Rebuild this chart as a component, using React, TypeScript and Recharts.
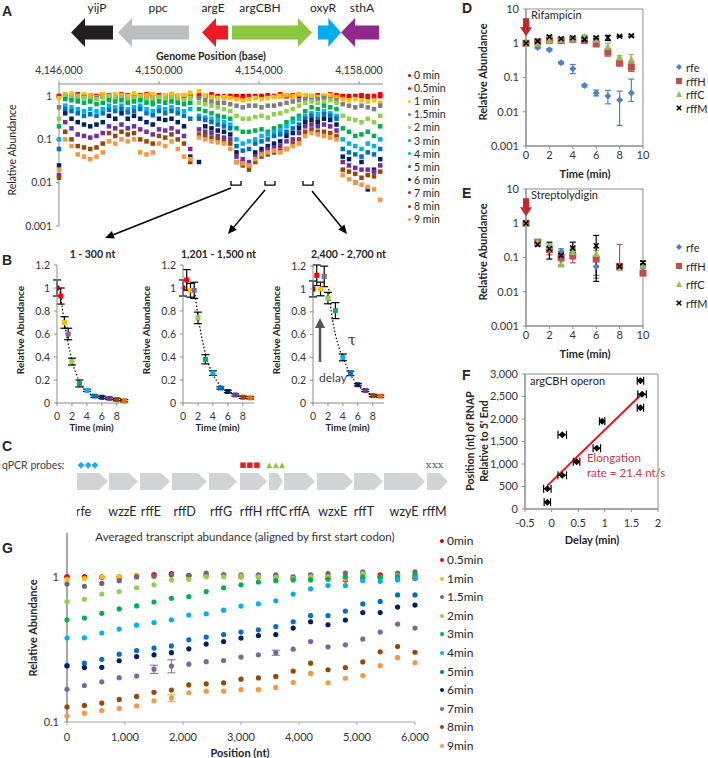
import React from "react";
import { ComposedChart, ErrorBar, Line, ReferenceArea, Scatter, XAxis, YAxis } from "recharts";

const FONT = "Lato, 'Open Sans', sans-serif";
const INK = "#262626";
const AXIS = "#8c8c8c";
const tickFont = (size: number) => ({ fontSize: size, fill: "#333", fontFamily: FONT });
const comma = (v: number) => v.toLocaleString("en-US");
const plain = (v: number) => String(v);

// ---------- Panel A: genome tiling (relative abundance per time point) ----------
const A_DOMAIN = [4146000, 4158960];
const A_TICKS = [4146000, 4150000, 4154000, 4158000];
const A_POS = [
  4146000, 4146250, 4146500, 4146750, 4147000, 4147250, 4147500, 4147750, 4148000, 4148250, 4148500,
  4148750, 4149000, 4149250, 4149500, 4149750, 4150000, 4150250, 4150500, 4150750, 4151000, 4151250,
  4151600, 4151850, 4152100, 4152350, 4152600, 4152850, 4153100, 4153350, 4153600, 4153850, 4154100,
  4154350, 4154600, 4154850, 4155100, 4155350, 4155600, 4155850, 4156100, 4156350, 4156600, 4156850,
  4157100, 4157350, 4157600, 4157850, 4158100, 4158350, 4158600, 4158850,
];
const A_0MIN = [
  1, 1, 1, 1, 1, 1, 1, 1, 1, 1, 1, 1, 1, 1, 1, 1, 1, 1, 1, 1, 1, 1,
  1, 1, 1, 1, 1, 1, 1, 1, 1, 1, 1, 1, 1, 1, 1, 1, 1, 1, 1, 1, 1, 1, 1, 1, 1, 1, 1, 1, 1, 1,
];
const A_05MIN = [
  1.0, 1.05, 0.95, 1.1, 1.0, 1.05, 1.0, 1.1, 1.05, 0.95, 1.1, 1.05, 1.0, 1.05, 1.1, 1.0, 1.05, 0.95, 1.1, 1.0, 1.05, 1.0,
  1.05, 1.0, 1.1, 1.0, 0.95, 1.0, 0.95, 0.9, 1.0, 0.95, 1.0, 1.05, 1.0, 1.1, 1.0, 1.05, 1.1, 1.0, 0.95, 1.05, 1.0, 1.1, 1.05, 1.0, 0.95, 1.0, 1.05, 0.95, 1.0, 1.1,
];
const A_1MIN = [
  0.9, 1.1, 1.15, 1.0, 1.1, 1.05, 0.95, 1.1, 1.0, 1.1, 1.05, 1.0, 1.15, 1.0, 1.05, 1.1, 0.95, 1.05, 1.1, 1.0, 1.05, 1.2,
  1.3, 1.0, 0.95, 0.9, 0.95, 0.9, 0.85, 0.8, 0.85, 0.9, 0.85, 0.9, 0.95, 1.0, 1.05, 1.0, 1.1, 1.05, 1.0, 0.95, 1.0, 1.05, 0.95, 0.85, 0.8, 0.85, 0.8, 0.75, 0.8, 0.7,
];
const A_15MIN = [
  0.55, 0.95, 0.9, 0.85, 0.95, 0.85, 0.9, 0.95, 0.85, 0.9, 0.95, 0.85, 0.8, 0.9, 0.85, 0.8, 0.9, 0.85, 0.9, 0.8, 0.85, 0.95,
  0.9, 0.8, 0.75, 0.7, 0.7, 0.65, 0.6, 0.55, 0.6, 0.6, 0.55, 0.6, 0.6, 0.65, 0.7, 0.75, 0.8, 0.85, 0.8, 0.85, 0.9, 0.85, 0.8, 0.65, 0.6, 0.55, 0.6, 0.55, 0.5, 0.6,
];
const A_2MIN = [
  0.3, 1.05, 0.95, 1.0, 0.9, 0.95, 0.85, 0.95, 1.0, 0.9, 0.95, 0.85, 0.9, 0.95, 0.85, 0.9, 0.95, 0.85, 0.9, 0.85, 0.8, 0.9,
  0.7, 0.65, 0.6, 0.55, 0.5, 0.45, 0.35, 0.3, 0.3, 0.33, 0.35, 0.32, 0.38, 0.4, 0.45, 0.5, 0.6, 0.7, 0.75, 0.7, 0.75, 0.8, 0.7, 0.35, 0.3, 0.28, 0.25, 0.3, 0.25, 0.35,
];
const A_3MIN = [
  0.2, 0.85, 0.8, 0.75, 0.7, 0.75, 0.65, 0.7, 0.8, 0.75, 0.8, 0.7, 0.75, 0.8, 0.7, 0.65, 0.75, 0.7, 0.75, 0.7, 0.65, 0.7,
  0.5, 0.45, 0.4, 0.35, 0.33, 0.3, 0.18, 0.15, 0.15, 0.16, 0.17, 0.15, 0.18, 0.2, 0.25, 0.3, 0.35, 0.45, 0.55, 0.5, 0.6, 0.55, 0.5, 0.18, 0.15, 0.12, 0.13, 0.15, 0.12, 0.2,
];
const A_4MIN = [
  0.1, 0.6, 0.55, 0.5, 0.45, 0.5, 0.45, 0.5, 0.6, 0.55, 0.6, 0.5, 0.55, 0.6, 0.5, 0.45, 0.55, 0.5, 0.55, 0.5, 0.45, 0.5,
  0.35, 0.32, 0.3, 0.28, 0.25, 0.22, 0.1, 0.08, 0.09, 0.1, 0.12, 0.13, 0.15, 0.16, 0.2, 0.25, 0.3, 0.35, 0.4, 0.38, 0.45, 0.4, 0.35, 0.1, 0.08, 0.07, 0.06, 0.08, 0.07, 0.1,
];
const A_5MIN = [
  0.06, 0.5, 0.45, 0.4, 0.35, 0.38, 0.35, 0.4, 0.48, 0.45, 0.5, 0.42, 0.45, 0.5, 0.4, 0.36, 0.45, 0.4, 0.45, 0.4, 0.35, 0.3,
  0.3, 0.28, 0.25, 0.22, 0.2, 0.18, 0.07, 0.055, 0.06, 0.08, 0.09, 0.1, 0.12, 0.13, 0.15, 0.18, 0.22, 0.3, 0.35, 0.3, 0.38, 0.35, 0.3, 0.06, 0.05, 0.045, 0.04, 0.05, 0.045, 0.06,
];
const A_6MIN = [
  0.025, 0.4, 0.3, 0.25, 0.22, 0.2, 0.22, 0.25, 0.35, 0.3, 0.4, 0.3, 0.35, 0.3, 0.25, 0.22, 0.3, 0.28, 0.3, 0.25, 0.2, 0.04,
  0.03, 0.2, 0.18, 0.16, 0.15, 0.13, 0.05, 0.03, 0.025, 0.05, 0.06, 0.07, 0.08, 0.09, 0.12, 0.14, 0.18, 0.25, 0.28, 0.25, 0.3, 0.28, 0.22, 0.04, 0.035, 0.01, 0.03, 0.007, 0.02, 0.035,
];
const A_7MIN = [
  0.015, 0.25, 0.18, 0.13, 0.12, 0.11, 0.12, 0.14, 0.2, 0.18, 0.22, 0.18, 0.2, 0.17, 0.15, 0.13, 0.17, 0.16, 0.18, 0.15, 0.12, 0.06,
  0.17, 0.15, 0.14, 0.12, 0.11, 0.1, 0.04, 0.035, 0.03, 0.04, 0.05, 0.06, 0.065, 0.07, 0.09, 0.1, 0.14, 0.2, 0.22, 0.2, 0.22, 0.2, 0.16, 0.03, 0.025, 0.022, 0.02, 0.02, 0.018, 0.025,
];
const A_8MIN = [
  0.013, 0.15, 0.1, 0.07, 0.065, 0.06, 0.065, 0.08, 0.14, 0.12, 0.15, 0.13, 0.14, 0.1, 0.09, 0.08, 0.12, 0.11, 0.13, 0.1, 0.08, 0.03,
  0.13, 0.12, 0.11, 0.1, 0.09, 0.08, 0.03, 0.025, 0.02, 0.03, 0.04, 0.045, 0.05, 0.055, 0.06, 0.08, 0.1, 0.15, 0.17, 0.15, 0.15, 0.14, 0.12, 0.02, 0.018, 0.016, 0.013, 0.015, 0.014, 0.018,
];
const A_9MIN = [
  0.02, 0.1, 0.07, 0.045, 0.04, 0.035, 0.04, 0.05, 0.09, 0.08, 0.1, 0.09, 0.1, 0.05, 0.045, 0.05, 0.08, 0.07, 0.09, 0.06, 0.04, 0.035,
  0.11, 0.1, 0.09, 0.085, 0.08, 0.06, 0.03, 0.028, 0.025, 0.035, 0.045, 0.05, 0.055, 0.05, 0.06, 0.07, 0.08, 0.12, 0.14, 0.13, 0.12, 0.11, 0.1, 0.015, 0.012, 0.01, 0.009, 0.008, 0.007, 0.004,
];
const A_SERIES = [A_0MIN, A_05MIN, A_1MIN, A_15MIN, A_2MIN, A_3MIN, A_4MIN, A_5MIN, A_6MIN, A_7MIN, A_8MIN, A_9MIN];
const A_LABELS = ["0 min", "0.5min", "1 min", "1.5min", "2 min", "3 min", "4 min", "5 min", "6 min", "7 min", "8 min", "9 min"];
const A_COLORS = ["#c00000", "#ff0000", "#ffc000", "#7f7f7f", "#92d050", "#00b050", "#00b0f0", "#0070c0", "#002060", "#7030a0", "#974706", "#f79646"];

const A_GENES = ["yijP", "ppc", "argE", "argCBH", "oxyR", "sthA"];
const A_GENE_START = [4146480, 4148360, 4151720, 4152920, 4156360, 4157280];
const A_GENE_END = [4148160, 4151200, 4152760, 4156120, 4157280, 4158800];
const A_GENE_STRAND = [-1, -1, -1, 1, 1, -1];
const A_GENE_LABEL_POS = [4147520, 4149960, 4152160, 4154040, 4156560, 4158120];
const A_GENE_COLORS = ["#231f20", "#bcbec0", "#ed1c24", "#8dc63f", "#00aeef", "#92278f"];
const A_WINDOW_START = [4152880, 4154240, 4155760];
const A_WINDOW_END = [4153280, 4154640, 4156160];

// ---------- Panel B: decay in three windows ----------
const B_TIMES = [0, 0.5, 1, 1.5, 2, 3, 4, 5, 6, 7, 8, 9];
const B_COLORS = ["#c00000", "#ff0000", "#ffc000", "#8064a2", "#92d050", "#00b050", "#00b0f0", "#0070c0", "#002060", "#7030a0", "#974706", "#e46c0a"];
const B1_VALUES = [1.0, 0.93, 0.7, 0.6, 0.36, 0.17, 0.11, 0.06, 0.05, 0.04, 0.03, 0.02];
const B1_ERR = [0.07, 0.07, 0.05, 0.05, 0.03, 0.03, 0.01, 0.01, 0.01, 0.01, 0.01, 0.01];
const B1_FIT_T = [0.35, 1, 2, 3, 4, 5, 6, 7, 8, 9];
const B1_FIT_V = [1.0, 0.7, 0.37, 0.19, 0.1, 0.06, 0.04, 0.03, 0.025, 0.02];
const B2_VALUES = [1.0, 1.07, 0.98, 0.98, 0.74, 0.38, 0.26, 0.13, 0.1, 0.07, 0.05, 0.045];
const B2_ERR = [0.07, 0.09, 0.06, 0.07, 0.05, 0.04, 0.02, 0.01, 0.01, 0.01, 0.01, 0.01];
const B2_FIT_T = [1.5, 2, 3, 4, 5, 6, 7, 8, 9];
const B2_FIT_V = [1.0, 0.76, 0.43, 0.25, 0.15, 0.1, 0.07, 0.05, 0.04];
const B3_VALUES = [1.0, 1.12, 1.0, 1.11, 0.92, 0.81, 0.4, 0.26, 0.16, 0.11, 0.065, 0.06];
const B3_ERR = [0.07, 0.09, 0.06, 0.09, 0.05, 0.07, 0.03, 0.02, 0.01, 0.01, 0.01, 0.01];
const B3_FIT_T = [2.1, 2.5, 3, 3.5, 4, 5, 6, 7, 8, 9];
const B3_FIT_V = [1.0, 0.78, 0.6, 0.48, 0.4, 0.25, 0.16, 0.1, 0.07, 0.05];

// ---------- Panel C: operon map ----------
const C_GENES = ["rfe", "wzzE", "rffE", "rffD", "rffG", "rffH", "rffC", "rffA", "wzxE", "rffT", "wzyE", "rffM"];
const C_START = [0, 1030, 2040, 3070, 4270, 5270, 6210, 6700, 7760, 8960, 9930, 11320];
const C_END = [1000, 1970, 3010, 4200, 5180, 6150, 6660, 7700, 8930, 9900, 11260, 12000];
const C_LABEL_POS = [210, 1470, 2390, 3480, 4660, 5630, 6460, 7190, 8270, 9280, 10580, 11560];
const C_PROBE_RFE = [130, 360, 580];
const C_PROBE_RFFH = [5370, 5590, 5820];
const C_PROBE_RFFC = [6220, 6430, 6630];
const C_PROBE_RFFM = [11370, 11570, 11760];

// ---------- Panels D / E: qPCR ----------
const QPCR_NAMES = ["rfe", "rffH", "rffC", "rffM"];
const QPCR_COLORS = ["#4f81bd", "#c0504d", "#9bbb59", "#000000"];
const D_TIMES = [0, 1, 2, 3, 4, 5, 6, 7, 8, 9];
const D_RFE = [1.0, 0.75, 0.65, 0.27, 0.18, 0.058, 0.035, 0.029, 0.022, 0.035];
const D_RFE_ERR = [[0, 0], [0.05, 0.05], [0.05, 0.05], [0.02, 0.02], [0.05, 0.06], [0.005, 0.005], [0.006, 0.008], [0.012, 0.013], [0.018, 0.018], [0.015, 0.055]];
const D_RFFH = [1.0, 1.1, 1.2, 1.2, 1.3, 1.2, 0.95, 0.55, 0.26, 0.2];
const D_RFFH_ERR = [[0, 0], [0.05, 0.05], [0.1, 0.1], [0.1, 0.1], [0.1, 0.1], [0.1, 0.1], [0.1, 0.1], [0.13, 0.15], [0.02, 0.02], [0.05, 0.07]];
const D_RFFC = [1.0, 1.0, 1.25, 1.3, 1.4, 1.6, 1.3, 0.8, 0.4, 0.35];
const D_RFFC_ERR = [[0, 0], [0.05, 0.05], [0.1, 0.1], [0.1, 0.1], [0.1, 0.1], [0.15, 0.15], [0.1, 0.1], [0.2, 0.2], [0.03, 0.03], [0.1, 0.12]];
const D_RFFM = [1.0, 1.15, 1.55, 1.35, 1.45, 1.3, 1.45, 1.45, 1.6, 1.65];
const D_RFFM_ERR = [[0, 0], [0.05, 0.05], [0.1, 0.1], [0.08, 0.08], [0.1, 0.1], [0.2, 0.3], [0.1, 0.1], [0.25, 0.25], [0.05, 0.05], [0.1, 0.1]];

const E_TIMES = [0, 1, 2, 3, 4, 6, 8, 10];
const E_RFE = [1.0, 0.28, 0.2, 0.15, 0.16, 0.055, 0.055, 0.053];
const E_RFE_ERR = [[0, 0], [0.02, 0.02], [0.03, 0.03], [0.03, 0.03], [0.03, 0.04], [0.03, 0.05], [0.005, 0.005], [0.005, 0.008]];
const E_RFFH = [1.0, 0.28, 0.17, 0.1, 0.11, 0.09, 0.055, 0.035];
const E_RFFH_ERR = [[0, 0], [0.02, 0.02], [0.05, 0.03], [0.04, 0.03], [0.04, 0.02], [0.06, 0.1], [0.005, 0.185], [0.003, 0.003]];
const E_RFFC = [1.0, 0.3, 0.22, 0.065, 0.15, 0.13, 0.05, 0.06];
const E_RFFC_ERR = [[0, 0], [0.02, 0.02], [0.04, 0.04], [0.01, 0.01], [0.03, 0.03], [0.03, 0.03], [0.005, 0.005], [0.005, 0.005]];
const E_RFFM = [1.0, 0.24, 0.18, 0.115, 0.19, 0.22, 0.055, 0.07];
const E_RFFM_ERR = [[0, 0], [0.02, 0.02], [0.09, 0.1], [0.06, 0.03], [0.05, 0.09], [0.2, 0.22], [0.005, 0.005], [0.005, 0.008]];

// ---------- Panel F: elongation ----------
const F_DELAY = [-0.08, -0.08, 0.2, 0.47, 0.85, 0.2, 0.95, 1.67, 1.7, 1.67];
const F_POS = [150, 450, 750, 1050, 1350, 1650, 1950, 2250, 2550, 2850];
const F_ERR = [0.06, 0.07, 0.08, 0.06, 0.07, 0.08, 0.05, 0.06, 0.08, 0.06];
const F_FIT_DELAY = [-0.08, 1.7];
const F_FIT_POS = [520, 2560];

// ---------- Panel G: averaged profile ----------
const G_POS = [0, 300, 600, 900, 1200, 1500, 1800, 2100, 2400, 2700, 3000, 3300, 3600, 3900, 4200, 4500, 4800, 5100, 5400, 5700, 6000];
const G_0MIN = [1.0, 1.0, 1.0, 1.0, 1.02, 1.03, 1.04, 1.02, 1.03, 1.02, 1.0, 1.02, 1.0, 0.98, 1.02, 1.0, 0.98, 1.05, 1.0, 1.02, 0.98];
const G_05MIN = [1.0, 1.0, 0.99, 0.98, 1.0, 1.03, 1.05, 1.02, 1.02, 1.03, 1.0, 1.0, 1.0, 0.97, 1.0, 0.98, 0.95, 0.97, 1.03, 0.98, 0.98];
const G_1MIN = [0.96, 0.97, 1.0, 1.0, 1.02, 1.0, 1.02, 1.0, 1.02, 1.03, 1.0, 1.02, 0.98, 0.96, 1.0, 0.98, 0.97, 1.05, 0.98, 1.0, 1.0];
const G_15MIN = [0.89, 0.86, 0.9, 0.94, 1.0, 1.01, 1.03, 1.02, 1.06, 1.03, 1.03, 1.03, 1.03, 1.0, 1.03, 1.05, 1.06, 1.08, 1.0, 1.06, 1.08];
const G_2MIN = [0.675, 0.7, 0.76, 0.79, 0.84, 0.88, 0.95, 0.96, 1.0, 1.0, 1.01, 1.0, 0.99, 0.97, 1.0, 1.0, 0.98, 1.05, 0.98, 1.02, 1.02];
const G_3MIN = [0.505, 0.52, 0.56, 0.6, 0.63, 0.67, 0.71, 0.73, 0.79, 0.84, 0.88, 0.92, 0.94, 0.95, 0.95, 0.96, 1.0, 1.0, 0.99, 1.0, 1.03];
const G_4MIN = [0.378, 0.38, 0.41, 0.436, 0.464, 0.484, 0.505, 0.545, 0.556, 0.589, 0.628, 0.651, 0.683, 0.76, 0.826, 0.87, 0.87, 0.94, 0.93, 0.95, 0.98];
const G_5MIN = [0.245, 0.254, 0.27, 0.293, 0.31, 0.323, 0.334, 0.368, 0.384, 0.4, 0.416, 0.431, 0.454, 0.49, 0.54, 0.54, 0.58, 0.65, 0.676, 0.75, 0.75];
const G_6MIN = [0.243, 0.237, 0.238, 0.264, 0.282, 0.29, 0.3, 0.319, 0.344, 0.358, 0.378, 0.394, 0.4, 0.443, 0.49, 0.467, 0.503, 0.567, 0.567, 0.618, 0.638];
const G_7MIN = [0.168, 0.178, 0.189, 0.202, 0.207, 0.231, 0.243, 0.25, 0.26, 0.265, 0.28, 0.29, 0.3, 0.317, 0.358, 0.329, 0.34, 0.372, 0.416, 0.472, 0.443];
const G_8MIN = [0.127, 0.13, 0.135, 0.143, 0.15, 0.16, 0.166, 0.18, 0.183, 0.186, 0.197, 0.201, 0.206, 0.224, 0.254, 0.229, 0.237, 0.259, 0.304, 0.331, 0.302];
const G_9MIN = [0.11, 0.115, 0.12, 0.124, 0.129, 0.14, 0.146, 0.159, 0.163, 0.163, 0.167, 0.167, 0.173, 0.187, 0.216, 0.186, 0.2, 0.209, 0.244, 0.277, 0.256];
const G_7MIN_ERR = [0, 0, 0, 0, 0, 0.015, 0.025, 0, 0, 0, 0, 0, 0.012, 0, 0, 0, 0, 0, 0, 0, 0];
const G_9MIN_ERR = [0, 0, 0, 0, 0, 0, 0.008, 0, 0, 0, 0, 0, 0, 0, 0, 0, 0, 0, 0, 0, 0];
const G_SERIES = [G_0MIN, G_05MIN, G_1MIN, G_15MIN, G_2MIN, G_3MIN, G_4MIN, G_5MIN, G_6MIN, G_7MIN, G_8MIN, G_9MIN];
const G_LABELS = ["0min", "0.5min", "1min", "1.5min", "2min", "3min", "4min", "5min", "6min", "7min", "8min", "9min"];
const G_COLORS = ["#c00000", "#ff0000", "#ffc000", "#6f6480", "#92d050", "#00b050", "#00b0f0", "#0070c0", "#002060", "#8064a2", "#974706", "#f79646"];

// ---------- helpers ----------
type Box = { l: number; t: number; r: number; b: number };
function place(box: Box, pad: Box, yW: number, xH: number, xTop = false) {
  return {
    left: box.l - pad.l - yW,
    top: box.t - pad.t - (xTop ? xH : 0),
    width: box.r - box.l + pad.l + pad.r + yW,
    height: box.b - box.t + pad.t + pad.b + xH,
    margin: { left: pad.l, top: pad.t, right: pad.r, bottom: pad.b },
  };
}

function At({ g, children }: any) {
  return <div style={{ position: "absolute", left: g.left, top: g.top, width: g.width, height: g.height }}>{children}</div>;
}

function Txt({ x, y, children, size = 11, bold = false, color = INK, anchor = "middle", rotate = false, family = FONT }: any) {
  const tx = anchor === "middle" ? "-50%" : anchor === "end" ? "-100%" : "0";
  return (
    <div
      style={{
        position: "absolute", left: x, top: y, whiteSpace: "nowrap", lineHeight: 1, fontSize: size, fontFamily: family,
        fontWeight: bold ? 700 : 400, color, transform: `translate(${tx}, -50%)${rotate ? " rotate(-90deg)" : ""}`,
      }}
    >
      {children}
    </div>
  );
}

const ok = (p: any) => Number.isFinite(p.cx) && Number.isFinite(p.cy);
const square = (s: number, color: string) => (p: any) =>
  ok(p) ? <rect x={p.cx - s / 2} y={p.cy - s / 2} width={s} height={s} fill={color} /> : <g />;
const dot = (r: number, color: string) => (p: any) => (ok(p) ? <circle cx={p.cx} cy={p.cy} r={r} fill={color} /> : <g />);
const diamond = (s: number, color: string) => (p: any) =>
  ok(p) ? <polygon points={`${p.cx},${p.cy - s / 2} ${p.cx + s / 2},${p.cy} ${p.cx},${p.cy + s / 2} ${p.cx - s / 2},${p.cy}`} fill={color} /> : <g />;
const triangle = (s: number, color: string) => (p: any) =>
  ok(p) ? <polygon points={`${p.cx},${p.cy - s / 2} ${p.cx + s / 2},${p.cy + s / 2} ${p.cx - s / 2},${p.cy + s / 2}`} fill={color} /> : <g />;
const cross = (s: number, color: string) => (p: any) =>
  ok(p) ? (
    <g stroke={color} strokeWidth={1.6}>
      <line x1={p.cx - s / 2} y1={p.cy - s / 2} x2={p.cx + s / 2} y2={p.cy + s / 2} />
      <line x1={p.cx - s / 2} y1={p.cy + s / 2} x2={p.cx + s / 2} y2={p.cy - s / 2} />
    </g>
  ) : <g />;
const letterX = (color: string) => (p: any) =>
  ok(p) ? <text x={p.cx} y={p.cy + 3} textAnchor="middle" fontSize={10} fontFamily="'DejaVu Serif', serif" fill={color}>x</text> : <g />;
const byIndex = (s: number, colors: string[]) => (p: any) =>
  ok(p) ? <rect x={p.cx - s / 2} y={p.cy - s / 2} width={s} height={s} fill={colors[p.payload.k]} /> : <g />;
const redArrow = (p: any) =>
  ok(p) ? (
    <polygon
      points={`${p.cx},${p.cy} ${p.cx + 6},${p.cy - 9} ${p.cx + 3},${p.cy - 9} ${p.cx + 3},${p.cy - 18} ${p.cx - 3},${p.cy - 18} ${p.cx - 3},${p.cy - 9} ${p.cx - 6},${p.cy - 9}`}
      fill="#c1272d"
    />
  ) : <g />;
const SHAPES = [diamond, square, triangle, cross];

function geneArrowA(strand: number, color: string) {
  return (p: any) => {
    const { x, y, width: w, height: h } = p;
    const hd = Math.min(14, w * 0.55);
    const y1 = y + h * 0.26;
    const y2 = y + h * 0.74;
    const ym = y + h / 2;
    const pts = strand > 0
      ? [x, y1, x + w - hd, y1, x + w - hd, y, x + w, ym, x + w - hd, y + h, x + w - hd, y2, x, y2]
      : [x + w, y1, x + hd, y1, x + hd, y, x, ym, x + hd, y + h, x + hd, y2, x + w, y2];
    return <polygon points={pts.join(",")} fill={color} />;
  };
}
const geneBlockC = (p: any) => {
  const { x, y, width: w, height: h } = p;
  const hd = Math.min(9, w * 0.4);
  return <polygon points={[x, y, x + w - hd, y, x + w, y + h / 2, x + w - hd, y + h, x, y + h].join(",")} fill="#d1d3d4" />;
};
const bracket = (p: any) => {
  const { x, y, width: w, height: h } = p;
  return <path d={`M${x},${y} V${y + h} H${x + w} V${y}`} fill="none" stroke="#000" strokeWidth={1.3} />;
};

function ArrowLine({ x1, y1, x2, y2, color = "#000", w = 1.5, head = 9, half = 4 }: any) {
  const a = Math.atan2(y2 - y1, x2 - x1);
  const bx = x2 - head * Math.cos(a);
  const by = y2 - head * Math.sin(a);
  const px = Math.sin(a) * half;
  const py = -Math.cos(a) * half;
  return (
    <g>
      <line x1={x1} y1={y1} x2={bx} y2={by} stroke={color} strokeWidth={w} />
      <polygon points={`${x2},${y2} ${bx + px},${by + py} ${bx - px},${by - py}`} fill={color} />
    </g>
  );
}

// ---------- panels ----------
function PanelA() {
  const gg = place({ l: 59, t: 18, r: 383, b: 47 }, { l: 0, t: 0, r: 14, b: 2 }, 0, 18, true);
  const g = place({ l: 59, t: 84, r: 383, b: 226 }, { l: 0, t: 0, r: 14, b: 10 }, 59, 30, true);
  return (
    <>
      <At g={gg}>
        <ComposedChart width={gg.width} height={gg.height} margin={gg.margin}>
          <XAxis type="number" dataKey="x" orientation="top" height={18} domain={A_DOMAIN} ticks={A_GENE_LABEL_POS}
            tickFormatter={(_v: number, i: number) => A_GENES[i]} axisLine={false} tickLine={false} tickSize={0} tickMargin={6}
            interval={0} tick={{ fontSize: 12, fill: INK, fontFamily: FONT }} />
          <YAxis type="number" dataKey="y" hide domain={[0, 1]} />
          {A_GENES.map((name, i) => (
            <ReferenceArea key={name} x1={A_GENE_START[i]} x2={A_GENE_END[i]} y1={0} y2={1}
              shape={geneArrowA(A_GENE_STRAND[i], A_GENE_COLORS[i])} />
          ))}
          <Scatter data={A_GENE_LABEL_POS.map((x) => ({ x, y: 0.5 }))} shape={() => <g />} isAnimationActive={false} />
        </ComposedChart>
      </At>
      <At g={g}>
        <ComposedChart width={g.width} height={g.height} margin={g.margin}>
          <XAxis type="number" dataKey="x" orientation="top" height={30} domain={A_DOMAIN} ticks={A_TICKS} tickFormatter={comma}
            stroke={AXIS} tick={tickFont(10.5)} tickSize={3} tickMargin={7} interval={0} />
          <YAxis type="number" dataKey="y" scale="log" domain={[0.001, 1.9]} ticks={[0.001, 0.01, 0.1, 1]} tickFormatter={plain}
            width={59} stroke={AXIS} tick={tickFont(10.5)} tickSize={3} tickMargin={4} interval={0} />
          {A_SERIES.map((vals, k) => (
            <Scatter key={A_LABELS[k]} data={A_POS.map((x, i) => ({ x, y: vals[i] }))} shape={square(4.5, A_COLORS[k])} isAnimationActive={false} />
          ))}
          {A_WINDOW_START.map((s, i) => (
            <ReferenceArea key={s} x1={s} x2={A_WINDOW_END[i]} y1={0.0088} y2={0.011} shape={bracket} />
          ))}
        </ComposedChart>
      </At>
      <Txt x={211} y={56} size={10.5} bold>Genome Position (base)</Txt>
      <Txt x={12} y={150} size={10.5} rotate>Relative Abundance</Txt>
      {A_LABELS.map((lab, i) => (
        <React.Fragment key={lab}>
          <div style={{ position: "absolute", left: 408, top: 75 + i * 13.1 - 1.5, width: 3, height: 3, borderRadius: 2, background: A_COLORS[i] }} />
          <Txt x={414} y={75 + i * 13.1} size={10.5} anchor="start">{lab}</Txt>
        </React.Fragment>
      ))}
    </>
  );
}

function DecayPanel({ box, values, errs, fitT, fitV, title }: any) {
  const g = place(box, { l: 4, t: 8, r: 8, b: 2 }, 28, 20);
  const cx = (box.l + box.r) / 2;
  return (
    <>
      <At g={g}>
        <ComposedChart width={g.width} height={g.height} margin={g.margin}>
          <XAxis type="number" dataKey="x" domain={[0, 9.5]} ticks={[0, 2, 4, 6, 8]} height={20} stroke={AXIS}
            tick={tickFont(10.5)} tickSize={3} tickMargin={7} interval={0} allowDataOverflow />
          <YAxis type="number" dataKey="y" domain={[0, 1.2]} ticks={[0, 0.2, 0.4, 0.6, 0.8, 1, 1.2]} tickFormatter={plain}
            width={28} stroke={AXIS} tick={tickFont(10.5)} tickSize={3} tickMargin={4} interval={0} />
          <Line data={fitT.map((x: number, i: number) => ({ x, y: fitV[i] }))} dataKey="y" type="monotone" stroke="#000"
            strokeWidth={1.2} strokeDasharray="1.5 2" dot={false} isAnimationActive={false} />
          <Scatter data={B_TIMES.map((x, i) => ({ x, y: values[i], e: errs[i], k: i }))} shape={byIndex(5, B_COLORS)} isAnimationActive={false}>
            <ErrorBar dataKey="e" direction="y" width={4} stroke="#000" strokeWidth={1.2} />
          </Scatter>
        </ComposedChart>
      </At>
      <Txt x={cx} y={254} size={10.5} bold>{title}</Txt>
      <Txt x={box.l - 37} y={330} size={10} bold rotate>Relative Abundance</Txt>
      <Txt x={cx - 1} y={428} size={9.5} bold>Time (min)</Txt>
    </>
  );
}

function PanelC() {
  const g = place({ l: 77, t: 458, r: 448, b: 494 }, { l: 0, t: 0, r: 14, b: 2 }, 0, 24);
  return (
    <>
      <At g={g}>
        <ComposedChart width={g.width} height={g.height} margin={g.margin}>
          <XAxis type="number" dataKey="x" domain={[0, 12000]} ticks={C_LABEL_POS} tickFormatter={(_v: number, i: number) => C_GENES[i]}
            axisLine={false} tickLine={false} tickSize={0} tickMargin={13} height={24} interval={0}
            tick={{ fontSize: 12.5, fill: INK, fontFamily: FONT }} />
          <YAxis type="number" dataKey="y" hide domain={[0, 1]} />
          {C_GENES.map((name, i) => (
            <ReferenceArea key={name} x1={C_START[i]} x2={C_END[i]} y1={0.11} y2={0.58} shape={geneBlockC} />
          ))}
          <Scatter data={C_PROBE_RFE.map((x) => ({ x, y: 0.8 }))} shape={diamond(7, "#29abe2")} isAnimationActive={false} />
          <Scatter data={C_PROBE_RFFH.map((x) => ({ x, y: 0.8 }))} shape={square(5.5, "#ed1c24")} isAnimationActive={false} />
          <Scatter data={C_PROBE_RFFC.map((x) => ({ x, y: 0.8 }))} shape={triangle(6, "#8dc63f")} isAnimationActive={false} />
          <Scatter data={C_PROBE_RFFM.map((x) => ({ x, y: 0.8 }))} shape={letterX("#555")} isAnimationActive={false} />
        </ComposedChart>
      </At>
      <Txt x={2} y={465} size={10.5} anchor="start" color="#404040">qPCR probes:</Txt>
    </>
  );
}

function QpcrPanel({ box, times, series, errors, drug, legendY }: any) {
  const g = place(box, { l: 8, t: 9, r: 12, b: 2 }, 40, 18);
  return (
    <>
      <At g={g}>
        <ComposedChart width={g.width} height={g.height} margin={g.margin}>
          <XAxis type="number" dataKey="x" domain={[0, 10]} ticks={[0, 2, 4, 6, 8, 10]} height={18} stroke={AXIS}
            tick={tickFont(11)} tickSize={3} tickMargin={2} interval={0} />
          <YAxis type="number" dataKey="y" scale="log" domain={[0.001, 10]} ticks={[0.001, 0.01, 0.1, 1, 10]} tickFormatter={plain}
            width={40} stroke={AXIS} tick={tickFont(11)} tickSize={3} tickMargin={4} interval={0} />
          <ReferenceArea x1={0} x2={10} y1={0.001} y2={10} fill="none" stroke={AXIS} strokeWidth={1} />
          {series.map((vals: number[], k: number) => (
            <Scatter key={QPCR_NAMES[k]} data={times.map((x: number, i: number) => ({ x, y: vals[i], e: errors[k][i] }))}
              shape={SHAPES[k](k === 3 ? 5 : 7, QPCR_COLORS[k])} isAnimationActive={false}>
              <ErrorBar dataKey="e" direction="y" width={3} stroke={QPCR_COLORS[k]} strokeWidth={1.2} />
            </Scatter>
          ))}
          <Scatter data={[{ x: 0, y: 1.6 }]} shape={redArrow} isAnimationActive={false} />
        </ComposedChart>
      </At>
      <Txt x={box.l + 5} y={box.t + 5} size={11} anchor="start">{drug}</Txt>
      <Txt x={482} y={(box.t + box.b) / 2 - 6} size={11} bold rotate>Relative Abundance</Txt>
      <Txt x={585} y={box.b + 27} size={11} bold>Time (min)</Txt>
      {QPCR_NAMES.map((n, k) => (
        <React.Fragment key={n}>
          <svg width={10} height={10} style={{ position: "absolute", left: 674, top: legendY[k] - 5 }}>
            {SHAPES[k](k === 3 ? 4.5 : 6, QPCR_COLORS[k])({ cx: 5, cy: 5 })}
          </svg>
          <Txt x={686} y={legendY[k]} size={11} anchor="start">{n}</Txt>
        </React.Fragment>
      ))}
    </>
  );
}

function PanelF() {
  const box = { l: 525, t: 374, r: 658, b: 509 };
  const g = place(box, { l: 8, t: 8, r: 12, b: 2 }, 40, 20);
  return (
    <>
      <At g={g}>
        <ComposedChart width={g.width} height={g.height} margin={g.margin}>
          <XAxis type="number" dataKey="x" domain={[-0.5, 2]} ticks={[-0.5, 0, 0.5, 1, 1.5, 2]} tickFormatter={plain} height={20}
            stroke={AXIS} tick={tickFont(11)} tickSize={3} tickMargin={7} interval={0} />
          <YAxis type="number" dataKey="y" domain={[0, 3000]} ticks={[0, 500, 1000, 1500, 2000, 2500, 3000]} tickFormatter={comma}
            width={40} stroke={AXIS} tick={tickFont(11)} tickSize={3} tickMargin={4} interval={0} />
          <ReferenceArea x1={-0.5} x2={2} y1={0} y2={3000} fill="none" stroke={AXIS} strokeWidth={1} />
          <Line data={F_FIT_DELAY.map((x, i) => ({ x, y: F_FIT_POS[i] }))} dataKey="y" type="linear" stroke="#e8141c"
            strokeWidth={2} dot={false} isAnimationActive={false} />
          <Scatter data={F_DELAY.map((x, i) => ({ x, y: F_POS[i], e: F_ERR[i] }))} shape={diamond(7, "#000")} isAnimationActive={false}>
            <ErrorBar dataKey="e" direction="x" width={4} stroke="#000" strokeWidth={1.2} />
          </Scatter>
        </ComposedChart>
      </At>
      <Txt x={530} y={380} size={11} anchor="start">argCBH operon</Txt>
      <Txt x={587} y={458} size={11.5} anchor="start" color="#c8374a">Elongation</Txt>
      <Txt x={587} y={473} size={11.5} anchor="start" color="#c8374a">rate = 21.4 nt/s</Txt>
      <Txt x={470} y={441} size={10.5} bold rotate>Position (nt) of RNAP</Txt>
      <Txt x={484} y={441} size={10.5} bold rotate>Relative to 5' End</Txt>
      <Txt x={592} y={539} size={11} bold>Delay (min)</Txt>
    </>
  );
}

function PanelG() {
  const g = place({ l: 67, t: 533, r: 415, b: 722 }, { l: 2, t: 2, r: 18, b: 2 }, 30, 22);
  return (
    <>
      <At g={g}>
        <ComposedChart width={g.width} height={g.height} margin={g.margin}>
          <XAxis type="number" dataKey="x" domain={[0, 6000]} ticks={[0, 1000, 2000, 3000, 4000, 5000, 6000]} tickFormatter={comma}
            height={22} stroke="#a6a6a6" tick={tickFont(11)} tickSize={3} tickMargin={8} interval={0} />
          <YAxis type="number" dataKey="y" scale="log" domain={[0.1, 2]} ticks={[0.1, 1]} tickFormatter={plain} width={30}
            axisLine={{ stroke: "#a6a6a6", strokeWidth: 2 }} tickLine={{ stroke: "#a6a6a6" }} tick={tickFont(11)} tickSize={3}
            tickMargin={5} interval={0} />
          {G_SERIES.map((vals, k) => (
            <Scatter key={G_LABELS[k]} data={G_POS.map((x, i) => ({
              x, y: vals[i], e: k === 9 ? G_7MIN_ERR[i] : k === 11 ? G_9MIN_ERR[i] : 0,
            }))} shape={dot(2.6, G_COLORS[k])} isAnimationActive={false}>
              {k === 9 || k === 11 ? <ErrorBar dataKey="e" direction="y" width={4} stroke={G_COLORS[k]} strokeWidth={1} /> : null}
            </Scatter>
          ))}
        </ComposedChart>
      </At>
      <Txt x={245} y={537} size={11.5} color="#333">Averaged transcript abundance (aligned by first start codon)</Txt>
      <Txt x={240} y={752} size={11} bold>Position (nt)</Txt>
      <Txt x={32} y={628} size={11} bold rotate>Relative Abundance</Txt>
      {G_LABELS.map((lab, i) => (
        <React.Fragment key={lab}>
          <div style={{ position: "absolute", left: 440, top: 541.4 + i * 18.6 - 2, width: 4, height: 4, borderRadius: 2, background: G_COLORS[i] }} />
          <Txt x={447} y={541.4 + i * 18.6} size={12} anchor="start">{lab}</Txt>
        </React.Fragment>
      ))}
    </>
  );
}

function Overlay() {
  return (
    <svg width={708} height={758} style={{ position: "absolute", left: 0, top: 0, pointerEvents: "none" }}>
      <ArrowLine x1={231} y1={188} x2={105} y2={238} />
      <ArrowLine x1={265} y1={190} x2={228} y2={234} />
      <ArrowLine x1={312} y1={191} x2={347} y2={234} />
      <ArrowLine x1={320} y1={362} x2={320} y2={318} color="#555" w={2.5} head={10} half={5} />
    </svg>
  );
}

export default function App() {
  return (
    <div style={{ position: "absolute", left: 0, top: 0, width: 708, height: 758, background: "#fff", overflow: "hidden", fontFamily: FONT, color: INK }}>
      <PanelA />
      <DecayPanel box={{ l: 57, t: 265, r: 128, b: 403 }} values={B1_VALUES} errs={B1_ERR} fitT={B1_FIT_T} fitV={B1_FIT_V} title="1 - 300 nt" />
      <DecayPanel box={{ l: 183, t: 265, r: 254, b: 403 }} values={B2_VALUES} errs={B2_ERR} fitT={B2_FIT_T} fitV={B2_FIT_V} title="1,201 - 1,500 nt" />
      <DecayPanel box={{ l: 313, t: 265, r: 384, b: 403 }} values={B3_VALUES} errs={B3_ERR} fitT={B3_FIT_T} fitV={B3_FIT_V} title="2,400 - 2,700 nt" />
      <PanelC />
      <QpcrPanel box={{ l: 526, t: 9, r: 643, b: 146 }} times={D_TIMES} series={[D_RFE, D_RFFH, D_RFFC, D_RFFM]}
        errors={[D_RFE_ERR, D_RFFH_ERR, D_RFFC_ERR, D_RFFM_ERR]} drug="Rifampicin" legendY={[67, 80.5, 94, 107.5]} />
      <QpcrPanel box={{ l: 526, t: 189, r: 643, b: 326 }} times={E_TIMES} series={[E_RFE, E_RFFH, E_RFFC, E_RFFM]}
        errors={[E_RFE_ERR, E_RFFH_ERR, E_RFFC_ERR, E_RFFM_ERR]} drug="Streptolydigin" legendY={[247, 265.5, 284, 302.5]} />
      <PanelF />
      <PanelG />
      <Overlay />
      <Txt x={333} y={378} size={12} color="#404040">delay</Txt>
      <Txt x={352} y={340} size={15} color="#404040" family="'DejaVu Serif', serif">τ</Txt>
      {[["A", 2, 11], ["B", 2, 260], ["C", 2, 446], ["G", 2, 548], ["D", 462, 8], ["E", 462, 193], ["F", 462, 375]].map(([l, x, y]) => (
        <Txt key={l as string} x={x} y={y} size={14} bold anchor="start" family="'Liberation Sans', Arial, sans-serif">{l}</Txt>
      ))}
    </div>
  );
}
